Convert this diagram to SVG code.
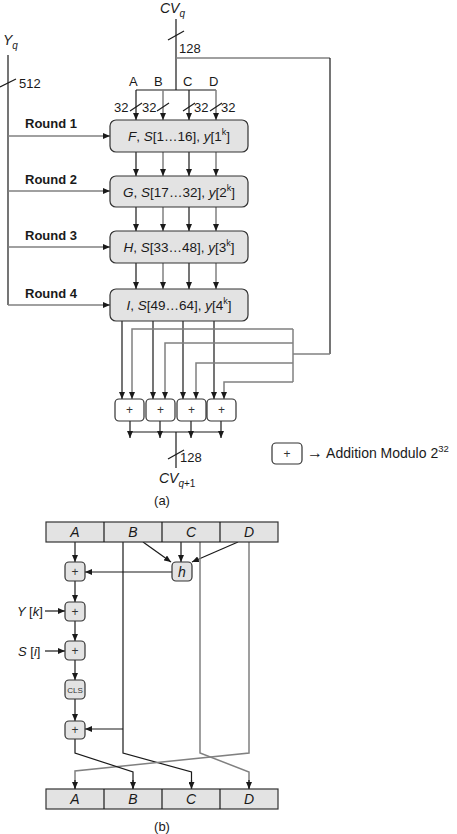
<svg xmlns="http://www.w3.org/2000/svg" width="457" height="834" viewBox="0 0 457 834">
<style>
text{font-family:"Liberation Sans",Arial,sans-serif;fill:#1a1a1a}
.k{stroke:#1a1a1a;stroke-width:1.2;fill:none}
.g{stroke:#808080;stroke-width:1.5;fill:none}
.ka{stroke:#1a1a1a;stroke-width:1.2;fill:none;marker-end:url(#ak)}
.ga{stroke:#808080;stroke-width:1.5;fill:none;marker-end:url(#ak)}
.box{fill:#e3e3e3;stroke:#333;stroke-width:1.2}
.add{fill:#fff;stroke:#333;stroke-width:1.2}
.bt{font-size:13.5px;text-anchor:middle}
.pl{font-size:12px;text-anchor:middle;fill:#333}
.rd{font-size:13px;font-weight:bold}
.n{font-size:13px}
.it{font-style:italic}
.lbl{font-size:14px;font-style:italic;text-anchor:middle}
.sub{font-size:10px}
.sup{font-size:9px}
</style>
<defs>
<marker id="ak" markerUnits="userSpaceOnUse" markerWidth="7" markerHeight="6" refX="7" refY="3" orient="auto">
<path d="M0,0 L7,3 L0,6 z" fill="#1a1a1a"/>
</marker>
</defs>

<g id="connectors">
<line class="k" x1="176" y1="19" x2="176" y2="90"/>
<line class="k" x1="168" y1="40" x2="184" y2="31"/>
<polyline class="g" points="176,58 330,58"/>
<polyline class="k" points="330,58 330,354"/>
<polyline class="g" points="330,354 293,354"/>
<line class="g" x1="293" y1="329" x2="293" y2="382"/>
<line class="k" x1="136" y1="90" x2="216" y2="90"/>
<line class="ka" x1="136" y1="90" x2="136" y2="120"/>
<line class="ga" x1="163" y1="90" x2="163" y2="120"/>
<line class="ka" x1="189" y1="90" x2="189" y2="120"/>
<line class="ga" x1="216" y1="90" x2="216" y2="120"/>
<line class="k" x1="130" y1="111" x2="142" y2="103"/>
<line class="k" x1="157" y1="111" x2="169" y2="103"/>
<line class="k" x1="183" y1="111" x2="195" y2="103"/>
<line class="k" x1="210" y1="111" x2="222" y2="103"/>
<line class="k" x1="8" y1="55" x2="8" y2="305"/>
<line class="k" x1="0" y1="87" x2="16" y2="79"/>
<line class="ga" x1="8" y1="136" x2="110" y2="136"/>
<line class="ga" x1="8" y1="191" x2="110" y2="191"/>
<line class="ga" x1="8" y1="247" x2="110" y2="247"/>
<line class="ga" x1="8" y1="305" x2="110" y2="305"/>
<line class="ka" x1="136" y1="152" x2="136" y2="176"/>
<line class="ga" x1="163" y1="152" x2="163" y2="176"/>
<line class="ka" x1="189" y1="152" x2="189" y2="176"/>
<line class="ga" x1="216" y1="152" x2="216" y2="176"/>
<line class="ka" x1="136" y1="207" x2="136" y2="231"/>
<line class="ga" x1="163" y1="207" x2="163" y2="231"/>
<line class="ka" x1="189" y1="207" x2="189" y2="231"/>
<line class="ga" x1="216" y1="207" x2="216" y2="231"/>
<line class="ka" x1="136" y1="263" x2="136" y2="289"/>
<line class="ga" x1="163" y1="263" x2="163" y2="289"/>
<line class="ka" x1="189" y1="263" x2="189" y2="289"/>
<line class="ga" x1="216" y1="263" x2="216" y2="289"/>
<line class="ka" x1="122" y1="321" x2="122" y2="399"/>
<line class="ka" x1="153" y1="321" x2="153" y2="399"/>
<line class="ka" x1="183" y1="321" x2="183" y2="399"/>
<line class="ka" x1="214" y1="321" x2="214" y2="399"/>
<polyline class="ga" points="293,329 132,329 132,399"/>
<polyline class="ga" points="293,343 165,343 165,399"/>
<polyline class="ga" points="293,363 196,363 196,399"/>
<polyline class="ga" points="293,382 224,382 224,399"/>
<line class="ka" x1="130" y1="421" x2="130" y2="438"/>
<line class="ka" x1="160" y1="421" x2="160" y2="438"/>
<line class="ka" x1="191" y1="421" x2="191" y2="438"/>
<line class="ka" x1="221" y1="421" x2="221" y2="438"/>
<line class="k" x1="130" y1="432" x2="221" y2="432"/>
<line class="k" x1="176" y1="432" x2="176" y2="468"/>
<line class="k" x1="168" y1="459" x2="184" y2="450"/>

<line class="ka" x1="75" y1="542" x2="75" y2="562"/>
<line class="ka" x1="143" y1="542" x2="171" y2="562"/>
<line class="ka" x1="181" y1="542" x2="181" y2="562"/>
<line class="ka" x1="238" y1="542" x2="192" y2="562"/>
<line class="ka" x1="172" y1="572" x2="85" y2="572"/>
<line class="ka" x1="75" y1="581" x2="75" y2="602"/>
<line class="ka" x1="45" y1="611" x2="65" y2="611"/>
<line class="ka" x1="75" y1="621" x2="75" y2="641"/>
<line class="ka" x1="45" y1="651" x2="65" y2="651"/>
<line class="ka" x1="75" y1="660" x2="75" y2="680"/>
<line class="ka" x1="75" y1="699" x2="75" y2="721"/>
<line class="ka" x1="123" y1="729" x2="85" y2="729"/>
<polyline class="k" points="123,542 123,753 191.5,772 191.5,789"/>
<polyline class="g" points="200,542 200,753 249,772 249,789"/>
<polyline class="g" points="249,542 249,753 75,771 75,789"/>
<polyline class="k" points="75,739 75,753 133,772 133,789"/>
<line class="ka" x1="191.5" y1="780" x2="191.5" y2="789"/>
<line class="ka" x1="249" y1="780" x2="249" y2="789"/>
<line class="ka" x1="75" y1="780" x2="75" y2="789"/>
<line class="ka" x1="133" y1="780" x2="133" y2="789"/>
</g>

<g id="labels-a">
<text class="it" x="160" y="13" style="font-size:14px">CV<tspan class="sub" dy="4">q</tspan></text>
<text class="n" x="179" y="53">128</text>
<text class="n" x="129" y="86">A</text>
<text class="n" x="154" y="86">B</text>
<text class="n" x="183" y="86">C</text>
<text class="n" x="209" y="86">D</text>
<text class="n" x="114" y="112">32</text>
<text class="n" x="142" y="112">32</text>
<text class="n" x="194" y="112">32</text>
<text class="n" x="221" y="112">32</text>
<text class="it" x="3" y="45" style="font-size:14px">Y<tspan class="sub" dy="4">q</tspan></text>
<text class="n" x="19" y="88">512</text>
<text class="rd" x="25" y="128">Round 1</text>
<text class="rd" x="25" y="184">Round 2</text>
<text class="rd" x="25" y="240">Round 3</text>
<text class="rd" x="25" y="298">Round 4</text>
<text class="n" x="180" y="462">128</text>
<text class="it" x="159" y="483" style="font-size:14px">CV<tspan class="sub" dy="4">q<tspan style="font-style:normal">+1</tspan></tspan></text>
<text class="n" x="162" y="505" text-anchor="middle">(a)</text>
</g>

<g id="round1"><rect class="box" x="110" y="120" width="138" height="32" rx="6"/>
<text class="bt" x="179" y="141"><tspan class="it">F</tspan>, <tspan class="it">S</tspan>[1…16], <tspan class="it">y</tspan>[1<tspan class="sup" dy="-6">k</tspan><tspan dy="6">]</tspan></text></g>
<g id="round2"><rect class="box" x="110" y="176" width="138" height="31" rx="6"/>
<text class="bt" x="179" y="197"><tspan class="it">G</tspan>, <tspan class="it">S</tspan>[17…32], <tspan class="it">y</tspan>[2<tspan class="sup" dy="-6">k</tspan><tspan dy="6">]</tspan></text></g>
<g id="round3"><rect class="box" x="110" y="231" width="138" height="32" rx="6"/>
<text class="bt" x="179" y="252"><tspan class="it">H</tspan>, <tspan class="it">S</tspan>[33…48], <tspan class="it">y</tspan>[3<tspan class="sup" dy="-6">k</tspan><tspan dy="6">]</tspan></text></g>
<g id="round4"><rect class="box" x="110" y="289" width="138" height="32" rx="6"/>
<text class="bt" x="179" y="310"><tspan class="it">I</tspan>, <tspan class="it">S</tspan>[49…64], <tspan class="it">y</tspan>[4<tspan class="sup" dy="-6">k</tspan><tspan dy="6">]</tspan></text></g>

<g id="adders">
<rect class="add" x="115" y="399" width="29" height="22" rx="4"/><text class="pl" x="129.5" y="414">+</text>
<rect class="add" x="146" y="399" width="29" height="22" rx="4"/><text class="pl" x="160.5" y="414">+</text>
<rect class="add" x="177" y="399" width="29" height="22" rx="4"/><text class="pl" x="191.5" y="414">+</text>
<rect class="add" x="207" y="399" width="29" height="22" rx="4"/><text class="pl" x="221.5" y="414">+</text>
</g>

<g id="legend">
<rect class="add" x="272" y="443" width="30" height="21" rx="4"/><text class="pl" x="287" y="458">+</text>
<text x="307" y="458" style="font-size:14px"><tspan style="font-size:16px">→</tspan> Addition Modulo 2<tspan class="sup" style="font-size:9.5px" dy="-6">32</tspan></text>
</g>

<g id="reg-top">
<rect class="box" x="46" y="522" width="232" height="20"/>
<line class="k" x1="104" y1="522" x2="104" y2="542"/>
<line class="k" x1="162" y1="522" x2="162" y2="542"/>
<line class="k" x1="220" y1="522" x2="220" y2="542"/>
<text class="lbl" x="75" y="537">A</text><text class="lbl" x="133" y="537">B</text><text class="lbl" x="191" y="537">C</text><text class="lbl" x="249" y="537">D</text>
</g>
<g id="h"><rect class="box" x="172" y="562" width="20" height="19" rx="4"/><text class="lbl" x="182" y="577">h</text></g>
<g id="add1"><rect class="box" x="65" y="562" width="20" height="19" rx="4"/><text class="pl" x="75" y="576">+</text></g>
<g id="add2"><rect class="box" x="65" y="602" width="20" height="19" rx="4"/><text class="pl" x="75" y="616">+</text></g>
<g id="add3"><rect class="box" x="65" y="641" width="20" height="19" rx="4"/><text class="pl" x="75" y="655">+</text></g>
<g id="cls"><rect class="box" x="65" y="680" width="20" height="19" rx="4"/><text x="75" y="693" style="font-size:8px;text-anchor:middle;fill:#333">CLS</text></g>
<g id="add4"><rect class="box" x="65" y="721" width="20" height="18" rx="4"/><text class="pl" x="75" y="734">+</text></g>
<text class="it" x="17" y="616" style="font-size:13px">Y <tspan style="font-style:normal">[</tspan>k<tspan style="font-style:normal">]</tspan></text>
<text class="it" x="18" y="656" style="font-size:13px">S <tspan style="font-style:normal">[</tspan>i<tspan style="font-style:normal">]</tspan></text>
<g id="reg-bottom">
<rect class="box" x="46" y="789" width="232" height="20"/>
<line class="k" x1="104" y1="789" x2="104" y2="809"/>
<line class="k" x1="162" y1="789" x2="162" y2="809"/>
<line class="k" x1="220" y1="789" x2="220" y2="809"/>
<text class="lbl" x="75" y="804">A</text><text class="lbl" x="133" y="804">B</text><text class="lbl" x="191" y="804">C</text><text class="lbl" x="249" y="804">D</text>
</g>
<text class="n" x="162" y="831" text-anchor="middle">(b)</text>
</svg>
